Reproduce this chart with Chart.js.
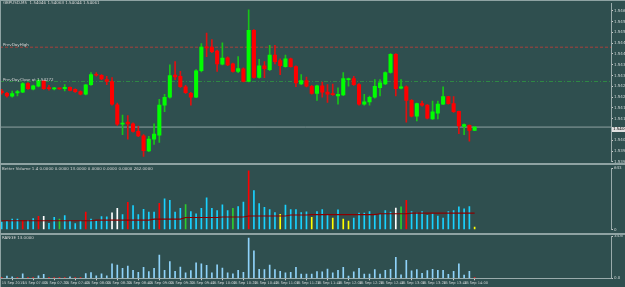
<!DOCTYPE html>
<html><head><meta charset="utf-8">
<script src="https://cdn.jsdelivr.net/npm/chart.js@4.4.0/dist/chart.umd.min.js"></script>
<style>
html,body{margin:0;padding:0;background:#2f4f4f;width:625px;height:287px;overflow:hidden}
#wrap{position:relative;width:625px;height:287px;background:#2f4f4f;overflow:hidden}
canvas{position:absolute;left:0}
.sep{position:absolute;left:0;width:625px;background:#8fa3a3}
.txt{position:absolute;font-family:"DejaVu Sans",sans-serif;font-size:8px;line-height:8px;color:#d4d4d4;white-space:nowrap;transform:scale(0.5);transform-origin:0 0}
</style></head><body>
<div id="wrap">
<canvas id="c1" width="625" height="165" style="top:0"></canvas>
<canvas id="c2" width="625" height="68" style="top:165px"></canvas>
<canvas id="c3" width="625" height="54" style="top:233px"></canvas>
<div class="sep" style="top:0;height:1px"></div>
<div class="sep" style="top:163px;height:2px"></div>
<div class="sep" style="top:232.5px;height:2px"></div>
<div class="sep" style="top:0;left:0;width:1px;height:287px"></div>
<div class="txt" style="left:3px;top:1px">GBPUSD,M5 &nbsp;1.54046 1.54063 1.54044 1.54061</div>
<div class="txt" style="left:3px;top:42.5px">PrevDayHigh</div>
<div class="txt" style="left:3px;top:78px">PrevDayClose at 1.54272</div>
<div class="txt" style="left:2px;top:166.5px">Better Volume 1.4 0.0000 0.0000 13.0000 0.0000 0.0000 0.0000 262.0000</div>
<div class="txt" style="left:2px;top:235.5px">RANGE 13.0000</div>
<div id="lastbox" style="position:absolute;left:612px;top:126.5px;width:13px;height:5px;background:#e0e0e0"></div>
<div class="txt" style="left:613px;top:127px;color:#000">1.54061</div>
</div>
<script>
const timeLabels = ['15 Sep 2015','15 Sep 07:00','15 Sep 07:20','15 Sep 07:40','15 Sep 08:00','15 Sep 08:20','15 Sep 08:40','15 Sep 09:00','15 Sep 09:20','15 Sep 09:40','15 Sep 10:00','15 Sep 10:20','15 Sep 10:40','15 Sep 11:00','15 Sep 11:20','15 Sep 11:40','15 Sep 12:00','15 Sep 12:20','15 Sep 12:40','15 Sep 13:00','15 Sep 13:20','15 Sep 13:40','15 Sep 14:00'];
const priceTicks = [1.5460,1.5455,1.5450,1.5445,1.5440,1.5435,1.5430,1.5425,1.5420,1.5415,1.5410,1.5400,1.5395,1.5390];

const open = [1.54228,1.54217,1.54204,1.54219,1.54223,1.54263,1.54237,1.54250,1.54275,1.54241,
1.54238,1.54240,1.54239,1.54245,1.54236,1.54226,1.54213,1.54257,1.54305,1.54301,
1.54281,1.54272,1.54164,1.54075,1.54084,1.54076,1.54041,1.54020,1.53950,1.54005,
1.54023,1.54163,1.54199,1.54302,1.54296,1.54248,1.54217,1.54200,1.54322,1.54432,
1.54431,1.54413,1.54352,1.54382,1.54354,1.54319,1.54331,1.54273,1.54509,1.54291,
1.54345,1.54327,1.54395,1.54369,1.54341,1.54377,1.54341,1.54261,1.54276,1.54250,
1.54217,1.54252,1.54223,1.54214,1.54205,1.54210,1.54281,1.54286,1.54258,1.54167,
1.54178,1.54199,1.54243,1.54261,1.54314,1.54398,1.54241,1.54248,1.54185,1.54111,
1.54170,1.54163,1.54099,1.54126,1.54167,1.54202,1.54170,1.54134,1.54064,1.54069,
1.54046];
const high = [1.54236,1.54222,1.54228,1.54231,1.54267,1.54267,1.54256,1.54281,1.54276,1.54254,
1.54245,1.54242,1.54258,1.54247,1.54238,1.54229,1.54258,1.54314,1.54314,1.54304,
1.54296,1.54290,1.54172,1.54117,1.54114,1.54081,1.54066,1.54026,1.54018,1.54076,
1.54190,1.54213,1.54349,1.54364,1.54319,1.54254,1.54222,1.54327,1.54448,1.54496,
1.54466,1.54418,1.54451,1.54386,1.54358,1.54387,1.54336,1.54604,1.54513,1.54375,
1.54364,1.54440,1.54440,1.54377,1.54395,1.54381,1.54345,1.54304,1.54293,1.54254,
1.54256,1.54269,1.54258,1.54260,1.54243,1.54314,1.54288,1.54296,1.54263,1.54213,
1.54205,1.54281,1.54281,1.54317,1.54402,1.54402,1.54281,1.54252,1.54188,1.54172,
1.54182,1.54165,1.54182,1.54182,1.54248,1.54204,1.54202,1.54135,1.54076,1.54072,
1.54063];
const low = [1.54213,1.54199,1.54199,1.54205,1.54220,1.54236,1.54233,1.54247,1.54236,1.54232,
1.54233,1.54236,1.54228,1.54229,1.54222,1.54210,1.54210,1.54254,1.54297,1.54281,
1.54257,1.54163,1.54069,1.54026,1.54005,1.54038,1.54017,1.53925,1.53947,1.53981,
1.53990,1.54132,1.54195,1.54281,1.54245,1.54217,1.54163,1.54197,1.54317,1.54387,
1.54406,1.54319,1.54349,1.54345,1.54315,1.54313,1.54270,1.54270,1.54288,1.54288,
1.54290,1.54322,1.54354,1.54304,1.54338,1.54338,1.54248,1.54258,1.54247,1.54213,
1.54185,1.54199,1.54175,1.54208,1.54167,1.54206,1.54250,1.54254,1.54163,1.54163,
1.54163,1.54195,1.54205,1.54258,1.54311,1.54205,1.54238,1.54084,1.54108,1.54089,
1.54158,1.54099,1.54097,1.54099,1.54165,1.54167,1.54129,1.54031,1.54026,1.53996,
1.54044];
const close = [1.54220,1.54205,1.54216,1.54226,1.54263,1.54239,1.54252,1.54276,1.54239,1.54239,
1.54240,1.54238,1.54245,1.54231,1.54225,1.54213,1.54257,1.54304,1.54301,1.54284,
1.54272,1.54167,1.54075,1.54078,1.54076,1.54041,1.54020,1.53952,1.54005,1.54028,
1.54163,1.54199,1.54299,1.54293,1.54248,1.54220,1.54200,1.54322,1.54431,1.54428,
1.54410,1.54354,1.54381,1.54349,1.54319,1.54332,1.54273,1.54509,1.54291,1.54345,
1.54331,1.54395,1.54364,1.54345,1.54377,1.54341,1.54266,1.54276,1.54250,1.54217,
1.54252,1.54223,1.54213,1.54211,1.54213,1.54286,1.54286,1.54258,1.54167,1.54178,
1.54199,1.54250,1.54266,1.54314,1.54398,1.54239,1.54248,1.54185,1.54111,1.54170,
1.54163,1.54102,1.54132,1.54167,1.54202,1.54170,1.54132,1.54066,1.54073,1.54046,
1.54061];

const volume = [80,87,110,110,97,97,117,140,140,67,
130,110,147,90,63,90,183,110,90,137,
133,177,223,157,287,253,157,213,183,183,
277,323,307,183,223,263,190,167,223,333,
223,200,260,200,223,243,290,617,410,273,
233,210,180,160,257,210,210,180,187,130,
190,210,160,120,207,110,90,120,173,173,
190,157,157,200,183,227,240,307,190,173,
190,150,167,143,120,190,200,240,217,243,
27];
const volumeClass = ['n','n','n','n','r','n','n','r','w','n',
'n','g','n','n','n','n','r','n','n','n',
'n','w','w','n','r','n','n','n','n','n',
'r','n','n','n','n','g','n','n','n','n',
'n','n','n','n','g','n','n','r','n','n',
'n','n','n','y','n','n','n','n','n','y',
'n','n','n','y','n','y','y','n','n','n',
'n','n','n','n','n','w','g','r','n','n',
'n','n','n','n','n','n','n','n','n','n',
'y'];
const volumeMA = [93,93,93,93,93,93,93,93,93,93,
93,93,93,93,93,93,93,93,100,100,
100,100,100,100,100,100,100,100,100,110,
110,110,110,110,110,127,127,127,127,127,
127,127,133,133,133,133,133,143,143,143,
143,143,143,143,143,153,153,153,153,157,
157,157,157,157,157,157,157,157,157,157,
157,157,167,167,167,167,167,167,173,173,
173,173,173,173,173,173,173,173,173,173,
173];
const range = [null,1.8,1.3,null,3.7,null,null,2.1,3.2,null,
null,null,null,1.3,null,null,4.0,4.8,2.1,3.7,
2.1,12.0,10.9,8.2,10.1,6.6,5.0,9.0,5.6,8.2,
19.2,6.6,13.8,5.8,9.3,4.5,6.4,12.8,12.0,10.8,
4.5,11.2,8.5,4.5,3.7,6.6,5.0,33.3,22.6,7.4,
7.2,10.9,7.2,5.8,4.5,5.0,9.0,3.4,3.4,3.4,
5.6,5.3,7.7,4.5,6.6,9.0,1.8,5.3,8.2,3.4,
3.4,7.2,3.4,6.6,7.4,17.3,2.9,14.9,6.1,7.2,
4.2,6.4,7.4,6.6,6.6,3.2,5.8,12.0,2.6,5.8,
null];
const rangeLow = [0.6,null,null,0.6,null,0.6,0.6,null,null,0.6,
0.6,0.6,0.6,null,0.6,0.6,null,null,null,null,
null,null,null,null,null,null,null,null,null,null,
null,null,null,null,null,null,null,null,null,null,
null,null,null,null,null,null,null,null,null,null,
null,null,null,null,null,null,null,null,null,null,
null,null,null,null,null,null,null,null,null,null,
null,null,null,null,null,null,null,null,null,null,
null,null,null,null,null,null,null,null,null,null,
0.6];
const levelHigh = 1.54431, levelClose = 1.54272, lastPrice = 1.54061;
const volumeTicks = [0, 643];
const rangeTicks = [0, 34.6];

Chart.defaults.font.family = 'DejaVu Sans';
Chart.defaults.animation = false;
const XMIN = -0.318, XMAX = 115.95;
const idx = open.map((_, i) => i);
const up = idx.map(i => close[i] >= open[i]);
const volColors = {n:'#19d2ff', r:'#ff0000', w:'#ffffff', g:'#2ecc2e', y:'#ffff00'};
const axisCol = '#9aabab', txtCol = '#cfd6d6';

function xs(display) {
  return {type:'linear', min:XMIN, max:XMAX, display:display, offset:false,
    grid:{display:display, drawOnChartArea:false, tickLength:2, color:'#c8c8c8'},
    border:{display:display, color:axisCol},
    afterFit(s){ if(display) s.height = 8.7; },
    afterBuildTicks(s){ s.ticks = timeLabels.map((_, k) => ({value: k * 4})); },
    ticks:{display:display, align:'start', autoSkip:false, maxRotation:0, font:{size:3.6}, color:txtCol, padding:0.5,
      callback:(v) => timeLabels[Math.round(v / 4)]}};
}
function ys(min, max, ticks, fmt) {
  return {position:'right', min:min, max:max,
    afterFit(s){ s.width = 14; },
    afterBuildTicks(s){ s.ticks = ticks.map(v => ({value:v})); },
    ticks:{autoSkip:false, font:{size:4}, color:txtCol, padding:1, callback:fmt},
    grid:{drawOnChartArea:false, tickLength:2, color:'#c8c8c8'},
    border:{display:true, color:axisCol}};
}
const common = {responsive:false, maintainAspectRatio:false, devicePixelRatio:1, animation:false,
  plugins:{legend:{display:false}, tooltip:{enabled:false}}, events:[]};

new Chart(document.getElementById('c1'), {
  type:'bar',
  data:{datasets:[
    {type:'bar', order:0, grouped:false, data: idx.map(i => ({x:i, y:[open[i], close[i]]})),
      backgroundColor: idx.map(i => up[i] ? '#00ff00' : '#ff0000'), barThickness:3.4, minBarLength:1, borderWidth:0},
    {type:'bar', order:1, grouped:false, data: idx.map(i => ({x:i, y:[low[i], high[i]]})),
      backgroundColor: idx.map(i => up[i] ? '#18c418' : '#e01010'), barThickness:1, borderWidth:0},
    {type:'line', order:2, data:[{x:XMIN, y:levelHigh},{x:XMAX, y:levelHigh}], borderColor:'#a8413a', borderWidth:1, borderDash:[3,2], pointRadius:0},
    {type:'line', order:2, data:[{x:XMIN, y:levelClose},{x:XMAX, y:levelClose}], borderColor:'#2f8a45', borderWidth:1, borderDash:[4,2,1,2], pointRadius:0},
    {type:'line', order:3, data:[{x:XMIN, y:lastPrice},{x:XMAX, y:lastPrice}], borderColor:'#8ea2a2', borderWidth:1, pointRadius:0}
  ]},
  options:Object.assign({}, common, {layout:{padding:{top:3, bottom:2, left:0, right:0}},
    scales:{x:xs(false), y:ys(1.539011, 1.546339, priceTicks, v => v.toFixed(5))}})
});

new Chart(document.getElementById('c2'), {
  type:'bar',
  data:{datasets:[
    {type:'line', order:0, data: idx.map(i => ({x:i, y:volumeMA[i]})), borderColor:'#8b0000', borderWidth:1.1, pointRadius:0, tension:0},
    {type:'bar', order:1, grouped:false, data: idx.map(i => ({x:i, y:volume[i]})),
      backgroundColor: idx.map(i => volColors[volumeClass[i]]), barThickness:1, borderWidth:0}
  ]},
  options:Object.assign({}, common, {layout:{padding:{top:1, bottom:2.7, left:0, right:0}},
    scales:{x:xs(false), y:ys(0, 643, volumeTicks, v => v.toFixed(0))}})
});

new Chart(document.getElementById('c3'), {
  type:'bar',
  data:{datasets:[
    {type:'bar', grouped:false, data: idx.map(i => ({x:i, y:range[i]})), backgroundColor:'#8fd3fa', barThickness:1, borderWidth:0},
    {type:'bar', grouped:false, data: idx.map(i => ({x:i, y:rangeLow[i]})), backgroundColor:'#ff1a1a', barThickness:1, borderWidth:0}
  ]},
  options:Object.assign({}, common, {layout:{padding:{top:2, bottom:0, left:0, right:0}},
    scales:{x:xs(true), y:ys(0, 34.6, rangeTicks, v => v.toFixed(1))}})
});
</script>
</body></html>
